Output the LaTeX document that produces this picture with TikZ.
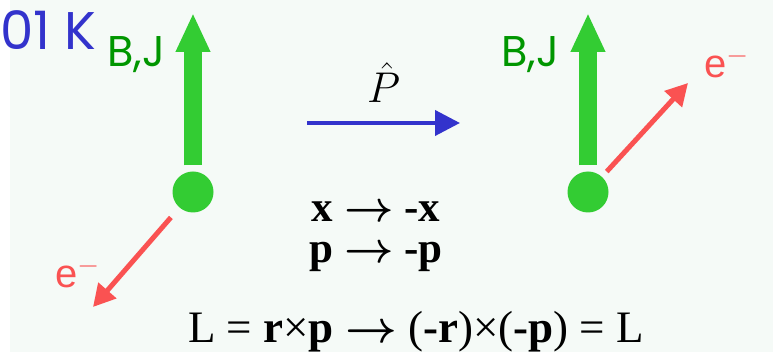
\RequirePackage{fix-cm}
\documentclass[tikz,border=0pt]{standalone}
\usepackage{bm}
\usepackage{fontspec}
\setmainfont{Liberation Serif}
\newfontfamily\comicf{Poppins}
\newfontfamily\arialf{Liberation Sans}
\usepackage{xcolor}
\usetikzlibrary{positioning,arrows.meta}
\definecolor{bg}{RGB}{245,250,247}
\definecolor{spin}{RGB}{51,204,51}
\definecolor{bjgreen}{RGB}{0,150,0}
\definecolor{elec}{RGB}{250,82,82}
\definecolor{pblue}{RGB}{51,51,204}
\newcommand\parto{$\bm{\rightarrow}$}
\begin{document}
\begin{tikzpicture}[
  x=1pt, y=-1pt,
  dot/.style={circle, fill=spin, minimum size=41pt, inner sep=0pt},
  spinarr/.style={-{Triangle[length=39pt, width=32pt]}, line width=18pt, draw=spin},
  earr/.style={-{Triangle[length=22pt, width=23pt]}, line width=5pt, draw=elec},
  parr/.style={-{Triangle[length=25pt, width=25pt]}, line width=4pt, draw=pblue},
  bj/.style={font=\comicf\fontsize{43}{50}\selectfont, text=bjgreen, inner sep=0pt},
  el/.style={font=\arialf\fontsize{40}{46}\selectfont, text=elec, inner sep=0pt},
  eq/.style={font=\fontsize{43}{50}\selectfont, inner sep=0pt}]

\useasboundingbox (0,0) rectangle (773,352);
\fill[bg] (10,0) rectangle (773,352);

\node[font=\comicf\fontsize{53}{60}\selectfont, text=pblue, inner sep=0pt, anchor=base west] (temp) at (0,50) {01 K};

\node[dot] (dotL) at (193,192) {};
\coordinate (topL) at (193,13);
\coordinate (eL) at (93,307);
\node[bj, anchor=base west] (bjL) at (107,67) {B,J};
\node[el, anchor=base west] (elL) at (55,288) {e$^-$};

\node[dot] (dotR) at (588,192) {};
\coordinate (topR) at (588,13);
\coordinate (eR) at (688,83);
\node[bj, anchor=base west] (bjR) at (501,67) {B,J};
\node[el, anchor=base west] (elR) at (704,78) {e$^-$};

\coordinate (pA) at (307,123);
\coordinate (pB) at (460,123);

\node[eq, anchor=base] (xrow) at (376,222) {\textbf{x} \parto{} \textbf{-x}};
\node[eq, anchor=base] (prow) at (376,263) {\textbf{p} \parto{} \textbf{-p}};
\node[eq, font=\fontsize{45}{50}\selectfont, anchor=base] (lrow) at (416,342) {L = \textbf{r}×\textbf{p} \parto{} (\textbf{-r})×(\textbf{-p}) = L};

\draw[spinarr, shorten <=6pt] (dotL) -- (topL);
\draw[spinarr, shorten <=6pt] (dotR) -- (topR);
\draw[earr, shorten <=13pt] (dotL) -- (eL);
\draw[earr, shorten <=7pt] (dotR) -- (eR);
\draw[parr] (pA) -- node[eq, above=18pt] (phat) {$\hat{P}$} (pB);
\end{tikzpicture}
\end{document}
